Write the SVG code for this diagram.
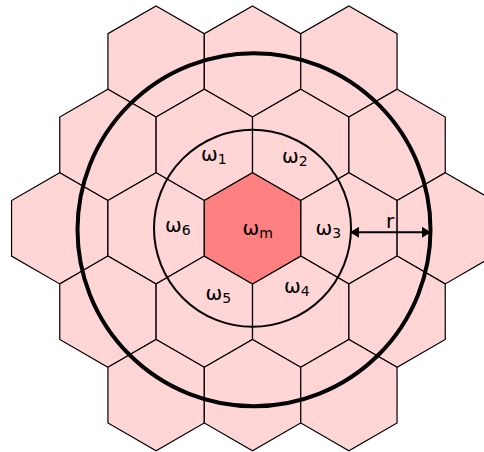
<svg xmlns="http://www.w3.org/2000/svg" width="484" height="452" viewBox="0 0 484 452">
<style>
.cell{fill:#ffd5d5;stroke:#000;stroke-width:1.2;stroke-linejoin:miter}
.center{fill:#ff8080;stroke:#000;stroke-width:1.2}
.lbl{font-family:"DejaVu Sans",sans-serif;font-size:20px;fill:#000}
.sub{font-size:14px}
.ring{fill:none;stroke:#000}
</style>
<defs>
<polygon id="hex" points="0,-55.6 48.15,-27.8 48.15,27.8 0,55.6 -48.15,27.8 -48.15,-27.8"/>
<marker id="ah" viewBox="0 0 10 10" refX="10" refY="5" markerWidth="9" markerHeight="11" markerUnits="userSpaceOnUse" orient="auto-start-reverse" preserveAspectRatio="none">
<path d="M0,0 L10,5 L0,10 z" fill="#000"/>
</marker>
</defs>
<rect width="484" height="452" fill="#fff"/>
<g id="cells">
<g id="h-2a"><use href="#hex" class="cell" x="156.1" y="61.5"/></g>
<g id="h-2b"><use href="#hex" class="cell" x="252.5" y="61.5"/></g>
<g id="h-2c"><use href="#hex" class="cell" x="348.9" y="61.5"/></g>
<g id="h-1a"><use href="#hex" class="cell" x="107.9" y="144.9"/></g>
<g id="h-1b"><use href="#hex" class="cell" x="204.3" y="144.9"/></g>
<g id="h-1c"><use href="#hex" class="cell" x="300.7" y="144.9"/></g>
<g id="h-1d"><use href="#hex" class="cell" x="397.1" y="144.9"/></g>
<g id="h0a"><use href="#hex" class="cell" x="59.7" y="228.3"/></g>
<g id="h0b"><use href="#hex" class="cell" x="156.1" y="228.3"/></g>
<g id="h0d"><use href="#hex" class="cell" x="348.9" y="228.3"/></g>
<g id="h0e"><use href="#hex" class="cell" x="445.3" y="228.3"/></g>
<g id="h1a"><use href="#hex" class="cell" x="107.9" y="311.7"/></g>
<g id="h1b"><use href="#hex" class="cell" x="204.3" y="311.7"/></g>
<g id="h1c"><use href="#hex" class="cell" x="300.7" y="311.7"/></g>
<g id="h1d"><use href="#hex" class="cell" x="397.1" y="311.7"/></g>
<g id="h2a"><use href="#hex" class="cell" x="156.1" y="395.1"/></g>
<g id="h2b"><use href="#hex" class="cell" x="252.5" y="395.1"/></g>
<g id="h2c"><use href="#hex" class="cell" x="348.9" y="395.1"/></g>
<g id="hm"><use href="#hex" class="center" x="252.5" y="228.3"/></g>
</g>
<g id="rings">
<circle class="ring" cx="252.5" cy="228.3" r="98.5" stroke-width="2"/>
<circle class="ring" cx="254" cy="229.7" r="176.5" stroke-width="4"/>
</g>
<g id="connectors">
<line x1="350" y1="232.3" x2="431" y2="232.3" stroke="#000" stroke-width="2" marker-start="url(#ah)" marker-end="url(#ah)"/>
</g>
<g id="labels">
<text class="lbl" x="390" y="228" text-anchor="middle">r</text>
<text class="lbl" x="201" y="161">ω<tspan class="sub" dy="3">1</tspan></text>
<text class="lbl" x="282" y="163">ω<tspan class="sub" dy="3">2</tspan></text>
<text class="lbl" x="315.5" y="235">ω<tspan class="sub" dy="3">3</tspan></text>
<text class="lbl" x="284" y="293">ω<tspan class="sub" dy="3">4</tspan></text>
<text class="lbl" x="205.5" y="300">ω<tspan class="sub" dy="3">5</tspan></text>
<text class="lbl" x="165" y="232">ω<tspan class="sub" dy="3">6</tspan></text>
<text class="lbl" x="242.5" y="235">ω<tspan class="sub" dy="3">m</tspan></text>
</g>
</svg>
